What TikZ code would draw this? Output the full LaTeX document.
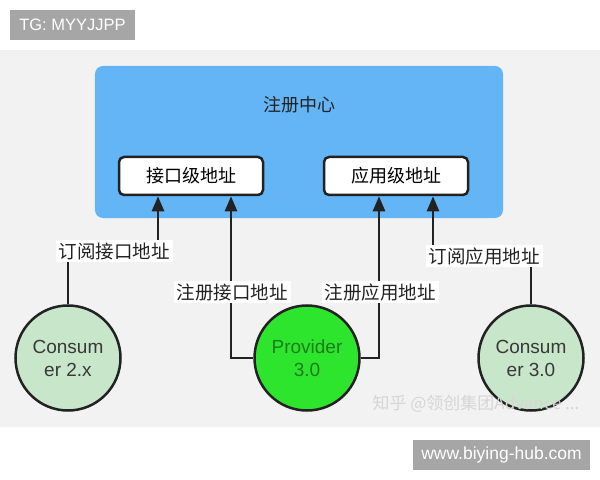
\documentclass[tikz,border=0pt]{standalone}
\usepackage{fontspec}
\setmainfont{Liberation Sans}
\newfontfamily\cjk{Noto Sans CJK SC}
\usetikzlibrary{arrows.meta}
\definecolor{panelgray}{HTML}{F2F2F2}
\definecolor{regblue}{HTML}{64B5F6}
\definecolor{taggray}{HTML}{A6A6A6}
\definecolor{consgreen}{HTML}{C8E6C9}
\definecolor{provgreen}{HTML}{2EE52E}
\definecolor{provtext}{HTML}{1E7B1E}
\definecolor{ink}{HTML}{222222}
\definecolor{markgray}{HTML}{D6D6D6}
\begin{document}
\begin{tikzpicture}[
    x=1bp, y=-1bp,
    tag/.style={fill=taggray, text=white, inner sep=0pt, minimum height=30bp,
                font=\fontsize{#1}{18bp}\selectfont},
    addr/.style={draw=ink, fill=white, line width=2.5bp, rounded corners=5bp,
                 minimum width=144bp, minimum height=38bp,
                 font=\cjk\fontsize{18bp}{22bp}\selectfont},
    svc/.style={circle, draw=ink, fill=#1, line width=2.5bp, minimum size=105bp,
                align=center, inner sep=0pt,
                font=\fontsize{19bp}{23bp}\selectfont},
    lbl/.style={fill=white, inner xsep=3bp, inner ysep=2bp,
                font=\cjk\fontsize{18.5bp}{22bp}\selectfont, text=ink},
    conn/.style={draw=ink, line width=2.5bp},
    arr/.style={conn, -{Triangle[width=12bp, length=15bp]}},
  ]
    \useasboundingbox (0,0) rectangle (600,480);

    % Background and tags
    \fill[panelgray] (0,50) rectangle (600,427);
    \node[tag=16.5bp, minimum width=125bp] (tgtag) at (72.5,25) {TG: MYYJJPP};
    \node[tag=17.5bp, minimum width=177bp] (sitetag) at (501.5,455) {www.biying-hub.com};

    % Registry
    \node[fill=regblue, rounded corners=8bp, minimum width=408bp,
          minimum height=152bp] (registry) at (299,142) {};
    \node[font=\cjk\fontsize{18bp}{22bp}\selectfont, text=ink] (regtitle)
          at (299,105) {注册中心};
    \node[addr] (ifaddr)  at (191,176) {接口级地址};
    \node[addr] (appaddr) at (396,176) {应用级地址};

    % Services
    \node[svc=consgreen, text=ink!90] (cons2) at (68,358) {Consum\\er 2.x};
    \node[svc=provgreen, text=provtext] (prov) at (307,358) {Provider\\3.0};
    \node[svc=consgreen, text=ink!90] (cons3) at (531,358) {Consum\\er 3.0};

    % Connectors
    \coordinate (subif)  at (158,251);
    \coordinate (subapp) at (433,256);
    \draw[arr] (cons2.north) |- (subif) -- (subif |- ifaddr.south);
    \draw[arr] (cons3.north) |- (subapp) -- (subapp |- appaddr.south);
    \draw[arr] (prov.west) -| ([xshift=-76bp]prov.south |- ifaddr.south);
    \draw[arr] (prov.east) -| ([xshift=72bp]prov.south |- appaddr.south);

    % Labels
    \node[lbl] (subiflbl)  at (114,251) {订阅接口地址};
    \node[lbl] (subapplbl) at (484,256) {订阅应用地址};
    \node[lbl] (regiflbl)  at (232,292) {注册接口地址};
    \node[lbl] (regapplbl) at (380,292) {注册应用地址};

    % Watermark
    \node[text=markgray, font=\cjk\fontsize{17bp}{20bp}\selectfont]
          (mark) at (476,404) {知乎 @领创集团Advance ...};
  \end{tikzpicture}
\end{document}
